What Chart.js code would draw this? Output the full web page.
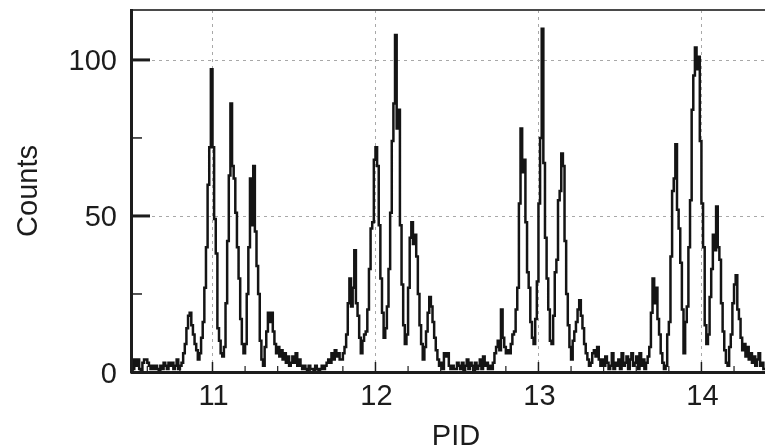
<!DOCTYPE html>
<html>
<head>
<meta charset="utf-8">
<title>PID counts</title>
<script src="https://cdn.jsdelivr.net/npm/chart.js@4.4.0/dist/chart.umd.min.js"></script>
<style>
  html, body { margin: 0; padding: 0; background: #fff; }
  #wrap { width: 765px; height: 448px; }
</style>
</head>
<body>
<div id="wrap"><canvas id="pidChart" width="765" height="448"></canvas></div>
<script>
// ─── Histogram data: bins of 0.01 PID starting at 10.50 ─────────────
const pidStart = 10.5;
const binWidth = 0.01;

// 10.50 – 10.79
const baseA = [1,0,1,4,2,4,1,0,3,4, 4,3,2,1,2,1,2,1,0,2, 1,3,2,1,3,2,3,1,2,4];
// 10.80 – 11.49
const peak11 = [1,2,3,6,9,14,18,19,15,12, 9,7,4,6,11,16,27,40,60,72,
                97,72,49,38,14,10,6,5,8,22, 42,63,86,66,62,51,40,30,17,9,
                6,9,25,40,62,47,66,45,34,25, 10,4,2,8,13,19,16,19,13,9,
                6,8,5,7,4,6,3,5,2,3];
// 11.50 – 11.79
const gapB = [5,3,6,2,4,2,1,2,1,0, 2,1,1,0,2,1,0,1,2,1, 2,3,4,3,6,4,7,5,6,4];
// 11.80 – 12.49
const peak12 = [4,6,8,12,22,30,21,27,39,22, 18,11,6,10,12,13,20,33,46,48,
                68,72,66,47,30,19,11,14,21,33, 51,74,86,108,78,84,47,28,15,9,
                12,27,43,48,41,44,37,25,15,9, 4,8,13,19,24,21,16,11,7,4,
                2,3,1,6,5,6,2,1,2,1];
// 12.50 – 12.69
const gapC = [1,3,2,1,3,0,2,4,1,3, 2,0,3,1,2,4,1,5,2,3];
// 12.70 – 13.39
const peak13 = [1,2,1,3,6,8,10,7,20,11, 8,6,7,6,9,12,13,20,27,54,
                78,64,68,48,32,27,16,11,9,17, 29,54,75,110,67,43,30,20,10,9,
                18,32,36,55,58,70,66,42,25,15, 8,4,10,13,16,20,23,18,14,9,
                6,4,2,3,6,7,5,8,4,2];
// 13.40 – 13.69
const gapD = [4,2,5,3,1,2,6,1,3,2, 4,1,6,2,3,5,1,4,6,2, 3,5,1,6,2,4,1,3,5,8];
// 13.70 – 14.39
const peak14 = [19,30,22,27,17,12,6,3,1,2, 12,16,37,58,62,73,52,46,35,20,
                6,16,21,40,55,84,95,104,97,101, 74,54,40,15,9,12,24,33,44,39,
                53,40,36,22,13,7,3,2,8,12, 22,28,31,20,17,11,7,9,5,8,
                4,6,3,5,2,4,6,2,3,1];

const counts = [].concat(baseA, peak11, gapB, peak12, gapC, peak13, gapD, peak14);

// ─── Axis ticks ──────────────────────────────────────────────────────
const xTicks = [11, 12, 13, 14];
const xMinorTicks = [10.6, 10.8, 11.2, 11.4, 11.6, 11.8, 12.2, 12.4, 12.6, 12.8,
                     13.2, 13.4, 13.6, 13.8, 14.2];
const yTicks = [0, 50, 100];
const yMinorTicks = [25, 75];

const FONT = "'Liberation Sans', Arial, Helvetica, sans-serif";
const INK = "#1c1c1c";

// step points at left bin edges, plus closing edge
const points = counts.map((c, i) => ({ x: pidStart + i * binWidth, y: c }));
points.push({ x: pidStart + counts.length * binWidth, y: counts[counts.length - 1] });

// ─── Frame, dotted grid, inward ticks, labels, axis titles ───────────
const framePlugin = {
  id: "frame",
  beforeDatasetsDraw(chart) {
    const { ctx, chartArea: a, scales: { x, y } } = chart;
    ctx.save();
    ctx.strokeStyle = "#a8a8a8";
    ctx.lineWidth = 1;
    ctx.setLineDash([3, 4]);
    xTicks.forEach((v) => {
      const px = Math.round(x.getPixelForValue(v)) + 0.5;
      ctx.beginPath(); ctx.moveTo(px, a.top); ctx.lineTo(px, a.bottom); ctx.stroke();
    });
    yTicks.filter((v) => v > 0).forEach((v) => {
      const py = Math.round(y.getPixelForValue(v)) + 0.5;
      ctx.beginPath(); ctx.moveTo(a.left, py); ctx.lineTo(a.right, py); ctx.stroke();
    });
    ctx.restore();
  },
  afterDatasetsDraw(chart) {
    const { ctx, chartArea: a, scales: { x, y } } = chart;
    ctx.save();
    ctx.setLineDash([]);

    // top border
    ctx.lineWidth = 2;
    ctx.strokeStyle = "#4a4a4a";
    ctx.beginPath(); ctx.moveTo(a.left, a.top); ctx.lineTo(a.right, a.top); ctx.stroke();

    ctx.strokeStyle = INK;
    // y ticks (inward)
    yTicks.filter((v) => v > 0).forEach((v) => {
      const py = y.getPixelForValue(v);
      ctx.lineWidth = 3;
      ctx.beginPath(); ctx.moveTo(a.left, py); ctx.lineTo(a.left + 19, py); ctx.stroke();
    });
    yMinorTicks.forEach((v) => {
      const py = y.getPixelForValue(v);
      ctx.lineWidth = 1.5;
      ctx.beginPath(); ctx.moveTo(a.left, py); ctx.lineTo(a.left + 11, py); ctx.stroke();
    });
    // x ticks (inward)
    xTicks.forEach((v) => {
      const px = x.getPixelForValue(v);
      ctx.lineWidth = 1.5;
      ctx.beginPath(); ctx.moveTo(px, a.bottom); ctx.lineTo(px, a.bottom - 10); ctx.stroke();
    });
    xMinorTicks.forEach((v) => {
      const px = x.getPixelForValue(v);
      ctx.lineWidth = 1.2;
      ctx.beginPath(); ctx.moveTo(px, a.bottom); ctx.lineTo(px, a.bottom - 6); ctx.stroke();
    });

    // axes
    ctx.lineWidth = 3;
    ctx.beginPath(); ctx.moveTo(a.left + 0.5, a.top - 1); ctx.lineTo(a.left + 0.5, a.bottom + 1.5); ctx.stroke();
    ctx.beginPath(); ctx.moveTo(a.left, a.bottom + 0.5); ctx.lineTo(a.right, a.bottom + 0.5); ctx.stroke();

    // tick labels
    ctx.fillStyle = INK;
    ctx.font = `29px ${FONT}`;
    ctx.textBaseline = "alphabetic";
    ctx.textAlign = "right";
    yTicks.forEach((v) => {
      ctx.fillText(String(v), a.left - 14, y.getPixelForValue(v) + 10.5);
    });
    ctx.textAlign = "center";
    xTicks.forEach((v) => {
      ctx.fillText(String(v), x.getPixelForValue(v) + 1, a.bottom + 33);
    });

    // titles
    ctx.textBaseline = "alphabetic";
    ctx.fillText("PID", (a.left + a.right) / 2 + 8, 445);
    ctx.translate(37, (a.top + a.bottom) / 2);
    ctx.rotate(-Math.PI / 2);
    ctx.fillText("Counts", 0, 0);
    ctx.restore();
  },
};

new Chart(document.getElementById("pidChart").getContext("2d"), {
  type: "line",
  data: {
    datasets: [{
      data: points,
      stepped: "after",
      borderColor: "#141414",
      borderWidth: 2.5,
      pointRadius: 0,
      fill: false,
      tension: 0,
    }],
  },
  options: {
    responsive: false,
    animation: false,
    events: [],
    layout: { padding: { top: 10, right: 0, bottom: 0, left: 0 } },
    plugins: { legend: { display: false }, tooltip: { enabled: false } },
    scales: {
      x: {
        type: "linear",
        min: 10.5,
        max: 14.39,
        grid: { display: false, drawTicks: false },
        border: { display: false },
        ticks: { display: false },
        afterFit: (s) => { s.height = 76; },
      },
      y: {
        min: 0,
        max: 116,
        grid: { display: false, drawTicks: false },
        border: { display: false },
        ticks: { display: false },
        afterFit: (s) => { s.width = 131; },
      },
    },
  },
  plugins: [framePlugin],
});
</script>
</body>
</html>
